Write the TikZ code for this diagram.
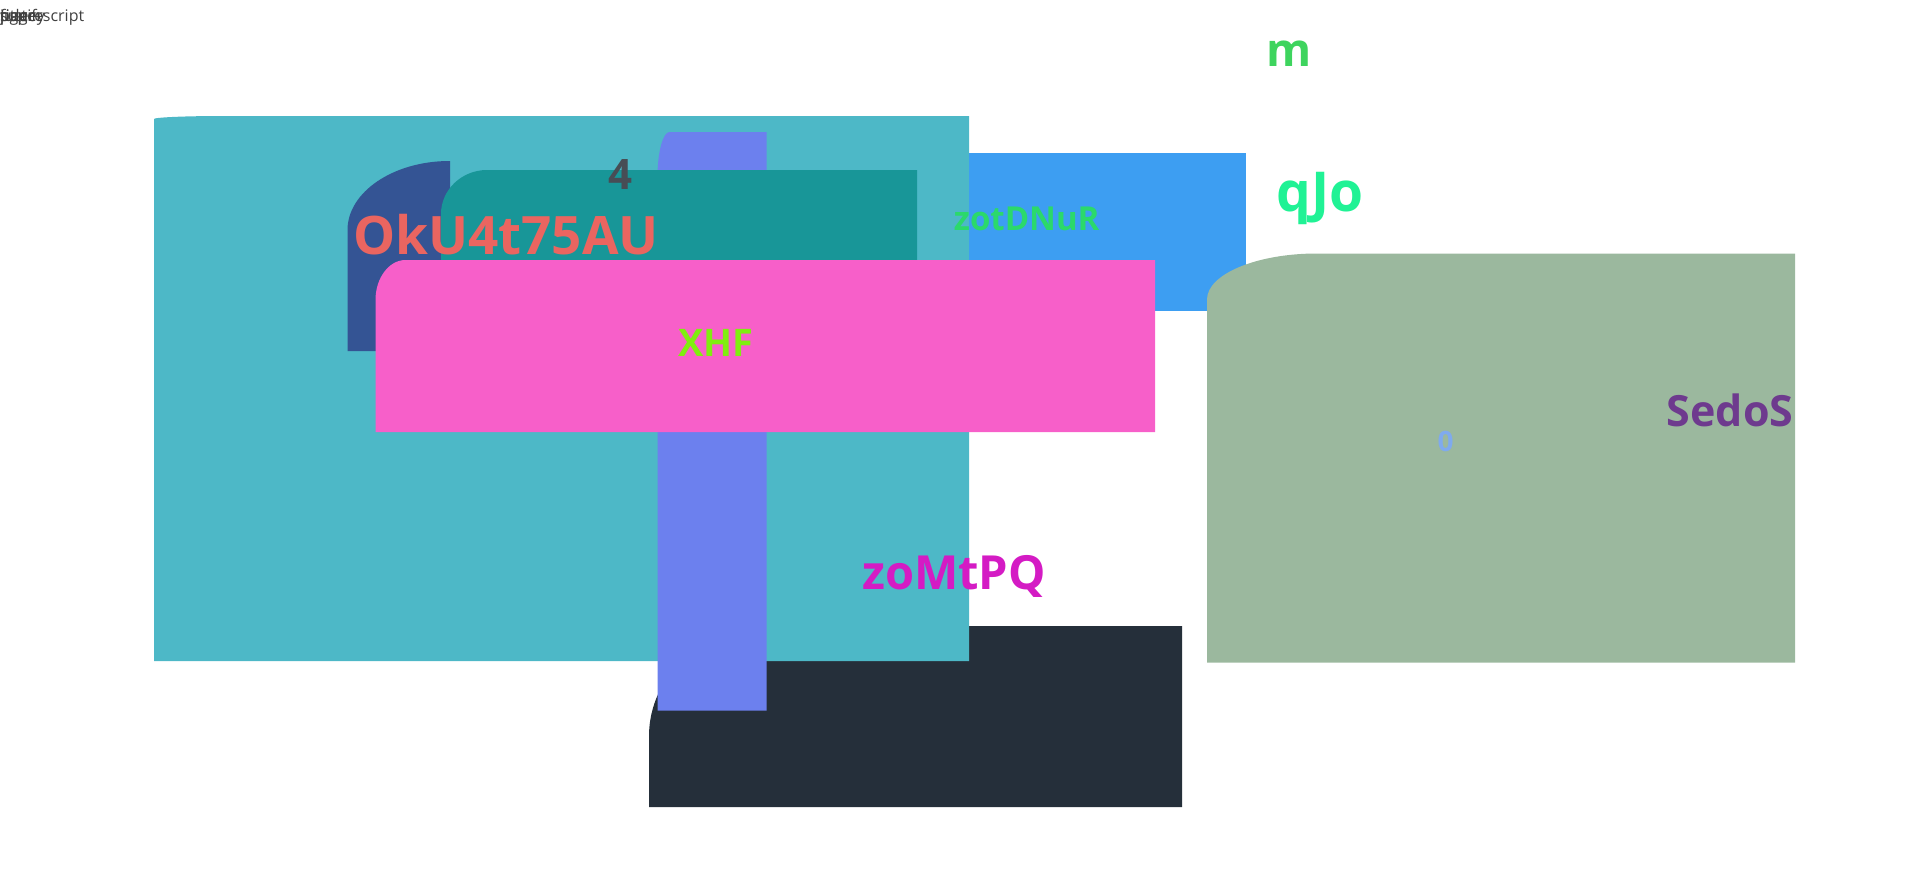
\documentclass[tikz,border=0pt]{standalone}
\usepackage{fontspec}
\setmainfont{Open Sans}
\usepackage{tikz}
\definecolor{slateColor}{HTML}{252F3A}
\definecolor{cyanColor}{HTML}{4DB8C7}
\definecolor{skyColor}{HTML}{3D9EF2}
\definecolor{navyColor}{HTML}{345494}
\definecolor{periColor}{HTML}{6C80EE}
\definecolor{tealColor}{HTML}{189698}
\definecolor{pinkColor}{HTML}{F75FC9}
\definecolor{sageColor}{HTML}{9BB89E}
\definecolor{fourColor}{HTML}{474D55}
\tikzstyle{canvas} = [x = 1pt, y = -1pt]
\tikzstyle{label} = [inner sep = 0pt, anchor = base]
\tikzstyle{tinyText} = [label, anchor = base west, text = black!75, font = \fontsize{16}{16}\selectfont]
\newcommand{\labelFont}[1]{\fontsize{#1}{#1}\selectfont\bfseries}
% box with a rounded top left corner: colour, x1, y1, x2, y2, rx, ry
\newcommand{\cornerBox}[7]{\fill [#1] (#2,#5) -- (#2,#3+#7) .. controls (#2,#3+0.45*#7) and (#2+0.45*#6,#3) .. (#2+#6,#3) -- (#4,#3) -- (#4,#5) -- cycle;}
\begin{document}
\begin{tikzpicture}[canvas]
  \useasboundingbox (0,0) rectangle (1920,870);
  \foreach \word in {superscript, justify, figure, title, page} {
    \node [tinyText] at (0,21.7) {\word};
  }
  \cornerBox{slateColor}{649}{626}{1182}{807}{120}{110}
  \cornerBox{cyanColor}{154}{116}{969}{661}{70}{3}
  \fill [skyColor] (969,153) rectangle (1245.5,311);
  \cornerBox{navyColor}{347.5}{161}{450}{351}{102}{69}
  \cornerBox{periColor}{657.5}{132}{766.5}{710.5}{12}{45}
  \cornerBox{tealColor}{441}{170}{917}{320}{46}{44}
  \cornerBox{pinkColor}{375.5}{260}{1155}{432}{30}{40}
  \cornerBox{sageColor}{1207}{253.5}{1795}{662.5}{110}{46}

  \node [label, text = fourColor, font = \labelFont{42}] (four) at (620.4,189.3) {4};
  \node [label, text = {rgb,255:red,234;green,101;blue,96}, font = \labelFont{53}] (okuLabel) at (506,254) {OkU4t75AU};
  \node [label, text = {rgb,255:red,43;green,217;blue,107}, font = \labelFont{33}] (zotLabel) at (1026.7,230.7) {zotDNuR};
  \node [label, text = {rgb,255:red,128;green,238;blue,16}, font = \labelFont{38}] (xhfLabel) at (716,356.7) {XHF};
  \node [label, text = {rgb,255:red,212;green,27;blue,196}, font = \labelFont{47}] (zomLabel) at (954,589) {zoMtPQ};
  \node [label, text = {rgb,255:red,110;green,58;blue,142}, font = \labelFont{43}] (sedLabel) at (1730,426.7) {SedoS};
  \node [label, text = {rgb,255:red,127;green,170;blue,238}, font = \labelFont{28}] (zeroLabel) at (1445.5,451.7) {0};
  \node [label, text = {rgb,255:red,62;green,212;blue,94}, font = \labelFont{46}] (mLabel) at (1289,66.7) {m};
  \node [label, text = {rgb,255:red,32;green,242;blue,149}, font = \labelFont{55}] (qjoLabel) at (1320,211.7) {qJo};
\end{tikzpicture}
\end{document}
